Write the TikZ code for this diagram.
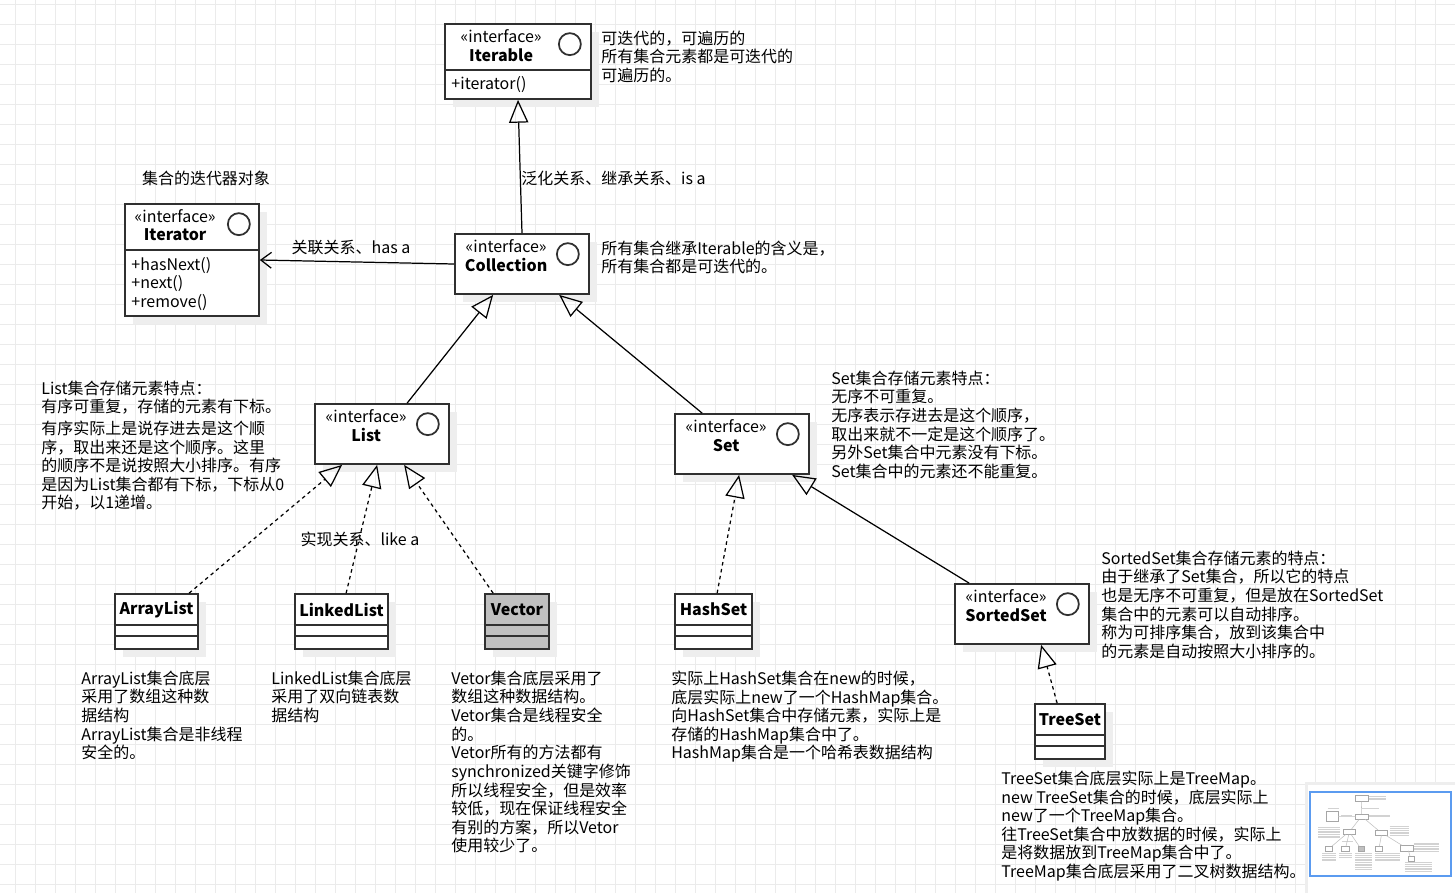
\documentclass[tikz,border=0pt]{standalone}
\usepackage{fontspec}
\setmainfont{Noto Sans CJK SC}
\usetikzlibrary{arrows.meta,calc,positioning,shadows}
\definecolor{Ink}{HTML}{303030}
\definecolor{GridLine}{HTML}{EBEBEB}
\definecolor{Shade}{HTML}{EEEEEE}
\definecolor{VecGray}{HTML}{C0C0C0}
\definecolor{MapBlue}{HTML}{5B9BF0}

\begin{document}
\begin{tikzpicture}[x=0.02cm,y=-0.02cm,every node/.style={font=\fontsize{9.1}{10.6}\selectfont,text=black,inner sep=0},
uml/.style={draw=Ink,fill=white,line width=1pt,general shadow={fill=Shade,shadow xshift=0.16cm,shadow yshift=-0.16cm}},
title/.style={font=\fontsize{9.1}{10.6}\selectfont\bfseries},
lolly/.style={circle,draw=Ink,line width=1pt,minimum size=0.44cm},
note/.style={anchor=north west,align=left},
gen/.style={-{Triangle[open,length=13pt,width=11pt]},line width=0.7pt,draw=black},
real/.style={gen,dash pattern=on 2pt off 2pt},
assoc/.style={-{Straight Barb[length=6pt,width=9pt]},line width=0.7pt,draw=black}]
\useasboundingbox (0,0) rectangle (1455,893);
\fill[white] (0,0) rectangle (1455,893);
\foreach \gx in {15,35,...,1455} \draw[GridLine,line width=0.5pt] (\gx,0) -- (\gx,893);
\foreach \gy in {4,24,...,893} \draw[GridLine,line width=0.5pt] (0,\gy) -- (1455,\gy);

% interfaces
\node[uml,minimum width=2.92cm,minimum height=1.5cm] (iterable) at (518,61.5) {};
\node at ($(iterable.north west)+(57,13.5)$) {«interface»}; \node[title] at ($(iterable.north west)+(57,32)$) {Iterable}; \node[lolly] at ($(iterable.north east)+(-22,21)$) {};
\draw[Ink,line width=1pt] ($(iterable.north west)+(0,47)$) -- ($(iterable.north east)+(0,47)$);
\node[anchor=west] at ($(iterable.north west)+(7,61)$) {+iterator()};

\node[uml,minimum width=2.68cm,minimum height=2.24cm] (iterator) at (192,260) {};
\node at ($(iterator.north west)+(51,13)$) {«interface»}; \node[title] at ($(iterator.north west)+(51,32)$) {Iterator}; \node[lolly] at ($(iterator.north east)+(-21,21)$) {};
\draw[Ink,line width=1pt] ($(iterator.north west)+(0,47)$) -- ($(iterator.north east)+(0,47)$);
\node[note] at ($(iterator.north west)+(7,53.5)$) {+hasNext()\\+next()\\+remove()};

\node[uml,minimum width=2.68cm,minimum height=1.2cm] (collection) at (522,264) {};
\node at ($(collection.north west)+(52,13)$) {«interface»}; \node[title] at ($(collection.north west)+(52,32)$) {Collection}; \node[lolly] at ($(collection.north east)+(-22,21)$) {};

\node[uml,minimum width=2.68cm,minimum height=1.2cm] (list) at (382,434) {};
\node at ($(list.north west)+(52,13)$) {«interface»}; \node[title] at ($(list.north west)+(52,32)$) {List}; \node[lolly] at ($(list.north east)+(-22,21)$) {};

\node[uml,minimum width=2.68cm,minimum height=1.2cm] (set) at (742,444) {};
\node at ($(set.north west)+(52,13)$) {«interface»}; \node[title] at ($(set.north west)+(52,32)$) {Set}; \node[lolly] at ($(set.north east)+(-22,21)$) {};

\node[uml,minimum width=2.68cm,minimum height=1.2cm] (sortedset) at (1022,614) {};
\node at ($(sortedset.north west)+(52,13)$) {«interface»}; \node[title] at ($(sortedset.north west)+(52,32)$) {SortedSet}; \node[lolly] at ($(sortedset.north east)+(-22,21)$) {};

% classes
\node[uml,minimum width=1.66cm,minimum height=1.1cm] (arraylist) at (156.5,621.5) {}; \node[title] at ($(arraylist.north)+(0,16.5)$) {ArrayList};
\node[uml,minimum width=1.86cm,minimum height=1.1cm] (linkedlist) at (341.5,621.5) {}; \node[title] at ($(linkedlist.north)+(0,16.5)$) {LinkedList};
\node[uml,fill=VecGray,minimum width=1.28cm,minimum height=1.1cm] (vector) at (517,621.5) {}; \node[title] at ($(vector.north)+(0,16.5)$) {Vector};
\node[uml,minimum width=1.54cm,minimum height=1.1cm] (hashset) at (713.5,621.5) {}; \node[title] at ($(hashset.north)+(0,16.5)$) {HashSet};
\node[uml,minimum width=1.4cm,minimum height=1.1cm] (treeset) at (1070,731.5) {}; \node[title] at ($(treeset.north)+(0,16.5)$) {TreeSet};
\foreach \c in {arraylist,linkedlist,vector,hashset,treeset} {
  \draw[Ink,line width=1pt] ($(\c.north west)+(0,32)$) -- ($(\c.north east)+(0,32)$);
  \draw[Ink,line width=1pt] ($(\c.north west)+(0,43)$) -- ($(\c.north east)+(0,43)$);
}

% connectors
\node (iterlabel) at (206,178) {集合的迭代器对象};
\node (genlabel) [anchor=west] at (521,178) {泛化关系、继承关系、is a};
\node (assoclabel) at (351,248) {关联关系、has a};
\node (reallabel) at (360,539) {实现关系、like a};
\draw[gen] (collection.north) -- (iterable.south);
\draw[assoc] (collection.west) -- (iterator.east);
\draw[gen] ($(list.north west)+(93,0)$) -- ($(collection.south west)+(39,0)$);
\draw[gen] ($(set.north west)+(28,0)$) -- ($(collection.south west)+(105,0)$);
\draw[gen] ($(sortedset.north west)+(15,0)$) -- ($(set.south west)+(118,0)$);
\draw[real] ($(arraylist.north west)+(75,0)$) -- ($(list.south west)+(28,0)$);
\draw[real] ($(linkedlist.north west)+(52,0)$) -- ($(list.south west)+(63,0)$);
\draw[real] ($(vector.north west)+(9,0)$) -- ($(list.south west)+(90,0)$);
\draw[real] ($(hashset.north west)+(43,0)$) -- ($(set.south west)+(65,0)$);
\draw[real] ($(treeset.north west)+(23,0)$) -- ($(sortedset.south west)+(87,0)$);

% notes
\node[note] (iterablenote) at (601,30.5) {可迭代的，可遍历的\\所有集合元素都是可迭代的\\可遍历的。};
\node[note] (collectionnote) at (601,240.5) {所有集合继承Iterable的含义是，\\所有集合都是可迭代的。};
\node[note] (listnote) at (41,380.5) {List集合存储元素特点：\\有序可重复，存储的元素有下标。};
\node[note] (listnote2) at (41,420.5) {有序实际上是说存进去是这个顺\\序，取出来还是这个顺序。这里\\的顺序不是说按照大小排序。有序\\是因为List集合都有下标，下标从0\\开始，以1递增。};
\node[note] (setnote) at (831,370.5) {Set集合存储元素特点：\\无序不可重复。\\无序表示存进去是这个顺序，\\取出来就不一定是这个顺序了。\\另外Set集合中元素没有下标。\\Set集合中的元素还不能重复。};
\node[note] (sortednote) at (1101,550.5) {SortedSet集合存储元素的特点：\\由于继承了Set集合，所以它的特点\\也是无序不可重复，但是放在SortedSet\\集合中的元素可以自动排序。\\称为可排序集合，放到该集合中\\的元素是自动按照大小排序的。};
\node[note] (arraynote) at (81,670.5) {ArrayList集合底层\\采用了数组这种数\\据结构\\ArrayList集合是非线程\\安全的。};
\node[note] (linkednote) at (271,670.5) {LinkedList集合底层\\采用了双向链表数\\据结构};
\node[note] (vectornote) at (451,670.5) {Vetor集合底层采用了\\数组这种数据结构。\\Vetor集合是线程安全\\的。\\Vetor所有的方法都有\\synchronized关键字修饰\\所以线程安全，但是效率\\较低，现在保证线程安全\\有别的方案，所以Vetor\\使用较少了。};
\node[note] (hashnote) at (671,670.5) {实际上HashSet集合在new的时候，\\底层实际上new了一个HashMap集合。\\向HashSet集合中存储元素，实际上是\\存储的HashMap集合中了。\\HashMap集合是一个哈希表数据结构};
\node[note] (treenote) at (1001,770.5) {TreeSet集合底层实际上是TreeMap。\\new TreeSet集合的时候，底层实际上\\new了一个TreeMap集合。\\往TreeSet集合中放数据的时候，实际上\\是将数据放到TreeMap集合中了。\\TreeMap集合底层采用了二叉树数据结构。};

% outline thumbnail
\fill[Shade] (1305,782) rectangle (1455,893); \fill[white] (1308,785) rectangle (1455,893);
\draw[MapBlue,line width=1.2pt] (1310,792) rectangle (1451,876);
\begin{scope}[shift={(1314.75,792.8)},scale=0.09]
\foreach \a/\b/\c/\d in {445/24/591/99,125/204/259/316,455/234/589/294,315/404/449/464,675/414/809/474,955/584/1089/644,115/594/198/649,295/594/388/649,675/594/752/649,1035/704/1105/759} \draw[gray!70,line width=0.3pt] (\a,\b) rectangle (\c,\d);
\filldraw[fill=VecGray,draw=gray!70,line width=0.3pt] (485,594) rectangle (549,649);
\foreach \a/\b/\c/\n in {601/37/195/3,601/247/230/2,142/177/130/1,521/177/188/1,291/247/121/1,301/538/120/1,41/387/245/7,831/377/220/6,1101/557/285/6,81/677/160/5,271/677/140/3,451/677/180/10,671/677/275/5,1001/777/300/6}
  \foreach \k in {1,...,\n} \draw[gray!35,line width=0.3pt] (\a,{\b+18.7*(\k-1)}) -- ++(\c,0);
\foreach \a/\b/\c/\d in {521/234/518/99,455/263/259/261,408/404/494/294,703/414/560/294,970/584/793/474,190/594/343/464,347/594/378/464,494/594/405/464,718/594/740/474,1058/704/1042/644} \draw[gray!50,line width=0.3pt] (\a,\b) -- (\c,\d);
\end{scope}

\end{tikzpicture}
\end{document}
